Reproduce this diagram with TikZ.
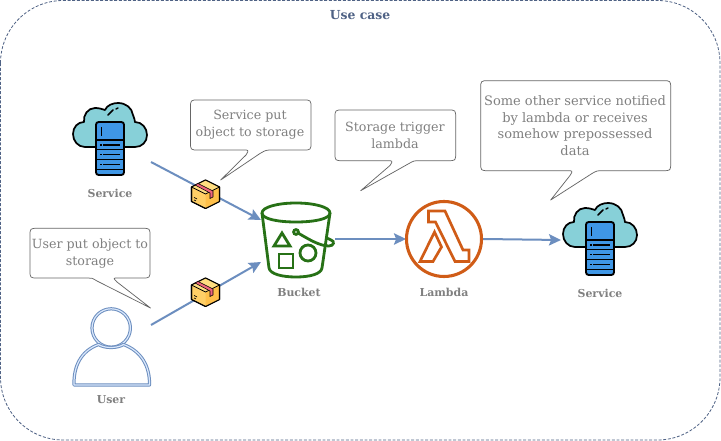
\documentclass[tikz,border=0pt]{standalone}
\usepackage{fontspec}
\setmainfont{DejaVu Serif}
\usetikzlibrary{arrows.meta}
\definecolor{frameC}{HTML}{4F6285}
\definecolor{arrowC}{HTML}{6C8EBF}
\definecolor{userC}{HTML}{DAE8FC}
\definecolor{txtC}{HTML}{808080}
\definecolor{calloutC}{HTML}{666666}
\definecolor{greenC}{HTML}{277116}
\definecolor{orangeC}{HTML}{D05C17}
\definecolor{cloudC}{HTML}{87D0D8}
\definecolor{srvC}{HTML}{3F97E6}
\definecolor{boxC}{HTML}{FFCF66}
\definecolor{boxT}{HTML}{FFDD80}
\definecolor{boxD}{HTML}{FFC04A}
\definecolor{ribC}{HTML}{F0657D}
\tikzset{
 x=0.75pt,y=-0.75pt,
 callout/.style={draw=calloutC,line width=0.55pt,fill=white,line join=round},
 callouttext/.style={text=txtC,font=\fontsize{9.5}{12.5}\selectfont,align=center,inner sep=0pt},
 iconlabel/.style={text=txtC,font=\fontsize{8.2}{10}\selectfont\bfseries,inner sep=0pt},
 flow/.style={draw=arrowC,line width=1.5pt,-{Stealth[length=9pt,width=8.5pt,inset=1.6pt,fill=arrowC]}},
 personline/.style={draw=arrowC,double=userC,line width=0.75pt,double distance=0.9pt,fill=white,line join=round},
 pics/service/.style={code={
  \draw[fill=cloudC,draw=black,line width=1.3pt,line join=round]
   (85,147) .. controls (78,147) and (73,141) .. (73,134)
   .. controls (73,127) and (78,122) .. (84,122)
   .. controls (83,115) and (88,108) .. (95,108)
   .. controls (99,108) and (102,109) .. (105,110)
   .. controls (107,105) and (113,103) .. (118,103)
   .. controls (126,103) and (132,108) .. (133,115)
   .. controls (134,118) and (135,120) .. (135,122)
   .. controls (142,122) and (147,128) .. (147,135)
   .. controls (147,142) and (142,147) .. (135,147) -- cycle;
  \draw[black,line width=1.1pt,line cap=round] (108,115) -- (113,110) (116,109) -- (118,108);
  \draw[fill=srvC,draw=black,line width=1.4pt,rounded corners=2pt] (96,122) rectangle (124,175);
  \draw[black,line width=1.1pt] (96,140) -- (124,140) (96,149.5) -- (124,149.5) (96,159.5) -- (124,159.5) (96,169.5) -- (124,169.5);
  \draw[black,line width=1pt] (103,145) -- (120,145) (103,154.5) -- (120,154.5) (103,164.5) -- (120,164.5);
  \draw[black,line width=1pt] (100,145) -- (101.5,145) (100,154.5) -- (101.5,154.5) (100,164.5) -- (101.5,164.5);
  \draw[black,line width=1pt] (101.5,127) -- (101.5,136);
 }},
 pics/parcel/.style={code={
  \draw[fill=boxC,draw=black,line width=0.8pt,line join=round] (191.5,187) -- (205.5,180) -- (219.5,187) -- (219.5,201.5) -- (205.5,208.5) -- (191.5,201.5) -- cycle;
  \fill[boxD] (205.5,194) -- (219.5,187) -- (219.5,201.5) -- (205.5,208.5) -- cycle;
  \fill[boxT] (191.5,187) -- (205.5,180) -- (219.5,187) -- (205.5,194) -- cycle;
  \draw[black,line width=0.8pt,line join=round] (191.5,187) -- (205.5,180) -- (219.5,187) -- (219.5,201.5) -- (205.5,208.5) -- (191.5,201.5) -- cycle;
  \draw[black,line width=0.6pt] (191.5,187) -- (205.5,194) -- (219.5,187);
  \fill[ribC,draw=black,line width=0.4pt] (198,183.5) -- (213,191) -- (213,197) -- (210,198.5) -- (210,193) -- (195,185) -- cycle;
  \draw[black,line width=0.5pt] (194,197.5) -- (197,199) (194,200) -- (196,201);
 }}
}
\begin{document}
\begin{tikzpicture}
\useasboundingbox (0,0) rectangle (721,441);
\fill[white] (0,0) rectangle (721,441);
\draw[frameC,line width=0.6pt,dash pattern=on 2.2pt off 1.3pt,rounded corners=47pt] (0.5,0.5) rectangle (720,440);
\node[font=\fontsize{9.3}{12}\selectfont\bfseries,text=frameC,inner sep=0pt] (title) at (360,15) {Use case};

% connector ends
\coordinate (s1out) at (151,162);
\coordinate (uout) at (151,325);
\coordinate (bIn1) at (261,220);
\coordinate (bIn2) at (261,262);
\coordinate (bOut) at (335,239);
\coordinate (lIn) at (406,239);
\coordinate (lOut) at (483,239);
\coordinate (s2in) at (561,240);

\draw[flow] (s1out) -- (bIn1);
\draw[flow] (uout) -- (bIn2);
\draw[flow] (bOut) -- (lIn);
\draw[flow] (lOut) -- (s2in);

% icons
\pic {service};
\pic[shift={(490,100)}] {service};
\pic {parcel};
\pic[shift={(0,98)}] {parcel};

% bucket
\begin{scope}[greenC,line width=2.1pt]
\draw (262,213) .. controls (262,207) and (278,203) .. (296,203) .. controls (314,203) and (330,207) .. (330,213) .. controls (330,219) and (314,222) .. (296,222) .. controls (278,222) and (262,219) .. (262,213) -- cycle;
\draw (262,213) -- (269,268) .. controls (270,274) and (282,277) .. (296,277) .. controls (310,277) and (321,274) .. (322,268) -- (330,213);
\draw[line join=miter] (282,233) -- (290,246) -- (274,246) -- cycle;
\draw (279,254) rectangle (293,268);
\draw (308,253) circle (8);
\draw (296,232) circle (2.4);
\draw (298,233) .. controls (310,240) and (320,246) .. (329,246) .. controls (334,246) and (335,241) .. (331,240) .. controls (329,239) and (327,238) .. (326,238);
\end{scope}

% lambda
\draw[orangeC,line width=2.3pt] (444,239) circle (37.5);
\begin{scope}[orangeC,line width=2pt,line join=miter]
\draw (428.5,211) -- (445,211) -- (463,250) -- (469,250) -- (469,261.5) -- (455,261.5) -- (435.5,222) -- (428.5,222) -- cycle;
\draw (434.5,232) -- (441.5,247) -- (433,261.5) -- (420,261.5) -- cycle;
\end{scope}

% user
\draw[personline] (111.2,328) circle (19.2);
\draw[personline] (74,385) .. controls (73.5,366) and (81,351) .. (98.5,344.5) .. controls (105,348.5) and (117,348.5) .. (123.5,344.5) .. controls (141,351) and (150,366) .. (149.5,385) -- cycle;

% labels
\node[iconlabel] (service1) at (110,193) {Service};
\node[iconlabel] (bucket) at (299,292) {Bucket};
\node[iconlabel] (lambda) at (444,292.5) {Lambda};
\node[iconlabel] (service2) at (600,293.5) {Service};
\node[iconlabel] (user) at (111,400) {User};

% callouts
\draw[callout] (198.5,100) -- (303,100) .. controls (311,100) .. (311,108) -- (311,142) .. controls (311,150) .. (303,150) -- (273,150) .. controls (266,150) .. (260,153.5) -- (220.7,180) -- (246,155) .. controls (249,150) .. (243,150) -- (198.5,150) .. controls (190.5,150) .. (190.5,142) -- (190.5,108) .. controls (190.5,100) .. (198.5,100) -- cycle;
\node[callouttext] (c1) at (250,125) {Service put\\object to storage};
\draw[callout] (343,110) -- (447.7,110) .. controls (455.7,110) .. (455.7,118) -- (455.7,152.7) .. controls (455.7,160.7) .. (447.7,160.7) -- (420,160.7) .. controls (414,160.7) .. (409,163.5) -- (360.7,190.7) -- (390,165.5) .. controls (393,160.7) .. (387,160.7) -- (343,160.7) .. controls (335,160.7) .. (335,152.7) -- (335,118) .. controls (335,110) .. (343,110) -- cycle;
\node[callouttext] (c2) at (395,135.5) {Storage trigger\\lambda};
\draw[callout] (488.7,80.7) -- (662.7,80.7) .. controls (670.7,80.7) .. (670.7,88.7) -- (670.7,162.7) .. controls (670.7,170.7) .. (662.7,170.7) -- (603,170.7) .. controls (597,170.7) .. (592,173.5) -- (550.7,200) -- (570,175.5) .. controls (573,170.7) .. (567,170.7) -- (488.7,170.7) .. controls (480.7,170.7) .. (480.7,162.7) -- (480.7,88.7) .. controls (480.7,80.7) .. (488.7,80.7) -- cycle;
\node[callouttext,font=\fontsize{9.75}{12.5}\selectfont] (c3) at (575,125.5) {Some other service notified\\by lambda or receives\\somehow prepossessed\\data};
\draw[callout] (38,228.3) -- (142,228.3) .. controls (150,228.3) .. (150,236.3) -- (150,270) .. controls (150,278) .. (142,278) -- (118,278) .. controls (113,278) .. (117,282) -- (150.5,308) -- (97,281) .. controls (92,278) .. (88,278) -- (38,278) .. controls (30,278) .. (30,270) -- (30,236.3) .. controls (30,228.3) .. (38,228.3) -- cycle;
\node[callouttext] (c4) at (90,253.5) {User put object to\\storage};
\end{tikzpicture}
\end{document}
